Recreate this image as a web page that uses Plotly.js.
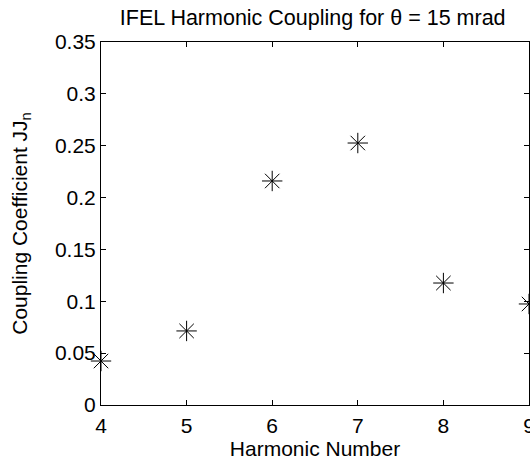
<!DOCTYPE html>
<html>
<head>
<meta charset="utf-8">
<script src="https://cdn.plot.ly/plotly-3.0.1.min.js"></script>
<style>html,body{margin:0;padding:0;background:#fff;}#chart{width:530px;height:462px;}</style>
</head>
<body>
<div id="chart"></div>
<script>
const harmonics = [4, 5, 6, 7, 8, 9];
const coupling = [0.0424, 0.0714, 0.216, 0.2526, 0.1176, 0.0974];
const xTicks = [4, 5, 6, 7, 8, 9];
const yTicks = [0, 0.05, 0.1, 0.15, 0.2, 0.25, 0.3, 0.35];
const yTickText = ['0', '0.05', '0.1', '0.15', '0.2', '0.25', '0.3', '0.35'];

const FONT = 'Liberation Sans, Arial, Helvetica, sans-serif';

const trace = {
  x: harmonics,
  y: coupling,
  type: 'scatter',
  mode: 'markers',
  cliponaxis: false,
  marker: {symbol: 'asterisk-open', size: 17, color: '#000', line: {color: '#000', width: 1}}
};

const axisCommon = {
  showgrid: false,
  zeroline: false,
  showline: true,
  linecolor: '#000',
  linewidth: 1,
  mirror: 'ticks',
  ticks: 'inside',
  ticklen: 5,
  tickcolor: '#000',
  ticklabeloverflow: 'allow',
  tickfont: {family: FONT, size: 21, color: '#000'}
};

const layout = {
  width: 530,
  height: 462,
  margin: {l: 101, r: 1, t: 42, b: 57},
  paper_bgcolor: '#fff',
  plot_bgcolor: '#fff',
  showlegend: false,
  title: {
    text: 'IFEL Harmonic Coupling for θ = 15 mrad',
    font: {family: FONT, size: 21.5, color: '#000'},
    x: 0.59, xanchor: 'center', y: 0.963, yanchor: 'middle'
  },
  xaxis: Object.assign({}, axisCommon, {
    range: [4, 9],
    tickvals: xTicks,
    ticktext: xTicks.map(String),
    ticklabelstandoff: 2,
    title: {text: 'Harmonic Number', font: {family: FONT, size: 21, color: '#000'}, standoff: 1}
  }),
  yaxis: Object.assign({}, axisCommon, {
    range: [0, 0.35],
    tickvals: yTicks,
    ticktext: yTickText,
    title: {text: 'Coupling Coefficient JJ<sub>n</sub>', font: {family: FONT, size: 21, color: '#000'}, standoff: 21}
  })
};

Plotly.newPlot('chart', [trace], layout, {staticPlot: true, displayModeBar: false});
</script>
</body>
</html>
